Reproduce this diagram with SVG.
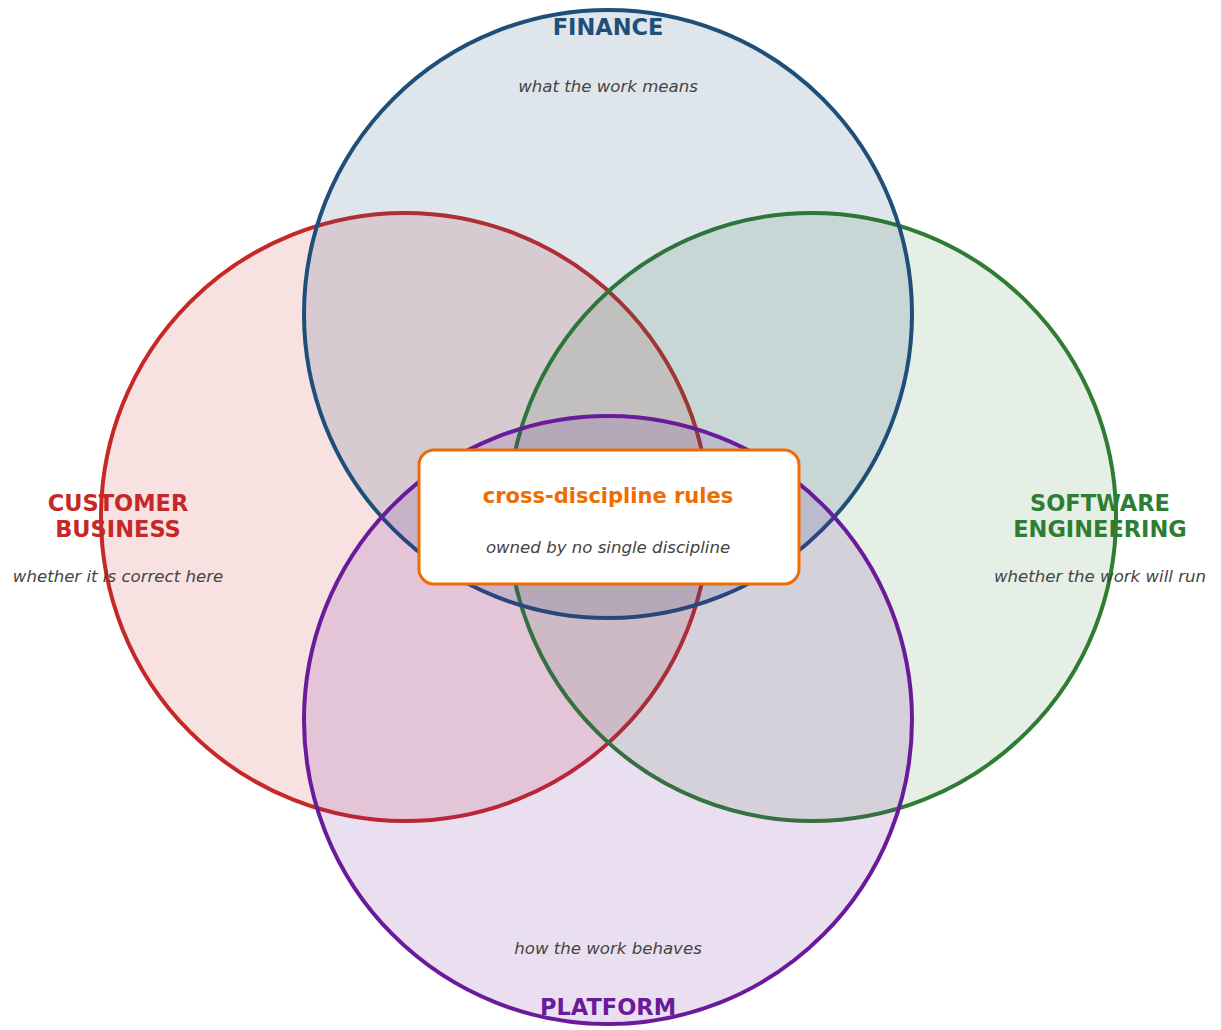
<svg xmlns="http://www.w3.org/2000/svg" width="1221" height="1030" viewBox="0 0 1221 1030">
<style>
.c{stroke-width:4;fill-opacity:0.14}
.t{font-family:"DejaVu Sans",sans-serif;font-weight:bold;font-size:22.5px;text-anchor:middle}
.s{font-family:"DejaVu Sans",sans-serif;font-style:italic;font-size:16.6px;fill:#444;text-anchor:middle}
</style>
<rect width="1221" height="1030" fill="#fff"/>
<g id="customer"><circle class="c" cx="405" cy="517" r="304" fill="#c62828" stroke="#c62828"/></g>
<g id="software"><circle class="c" cx="812" cy="517" r="304" fill="#2e7d32" stroke="#2e7d32" style="fill-opacity:0.12"/></g>
<g id="finance"><circle class="c" cx="608" cy="314" r="304" fill="#1f4e79" stroke="#1f4e79" style="fill-opacity:0.15"/></g>
<g id="platform"><circle class="c" cx="608" cy="720" r="304" fill="#6a1b9a" stroke="#6a1b9a"/></g>
<g id="connectors"></g>
<g id="labels">
<text class="t" x="608" y="35" fill="#1f4e79">FINANCE</text>
<text class="s" x="608" y="92">what the work means</text>
<text class="t" x="118" y="511" fill="#c62828">CUSTOMER</text>
<text class="t" x="118" y="537" fill="#c62828">BUSINESS</text>
<text class="s" x="118" y="582">whether it is correct here</text>
<text class="t" x="1100" y="511" fill="#2e7d32">SOFTWARE</text>
<text class="t" x="1100" y="537" fill="#2e7d32">ENGINEERING</text>
<text class="s" x="1100" y="582">whether the work will run</text>
<text class="s" x="608" y="954">how the work behaves</text>
<text class="t" x="608" y="1015" fill="#6a1b9a">PLATFORM</text>
</g>
<g id="center">
<rect x="419" y="450" width="380" height="134" rx="15" fill="#fff" stroke="#ef6c00" stroke-width="3"/>
<text class="t" x="608" y="503" fill="#ef6c00" style="font-size:21px">cross-discipline rules</text>
<text class="s" x="608" y="553">owned by no single discipline</text>
</g>
</svg>
